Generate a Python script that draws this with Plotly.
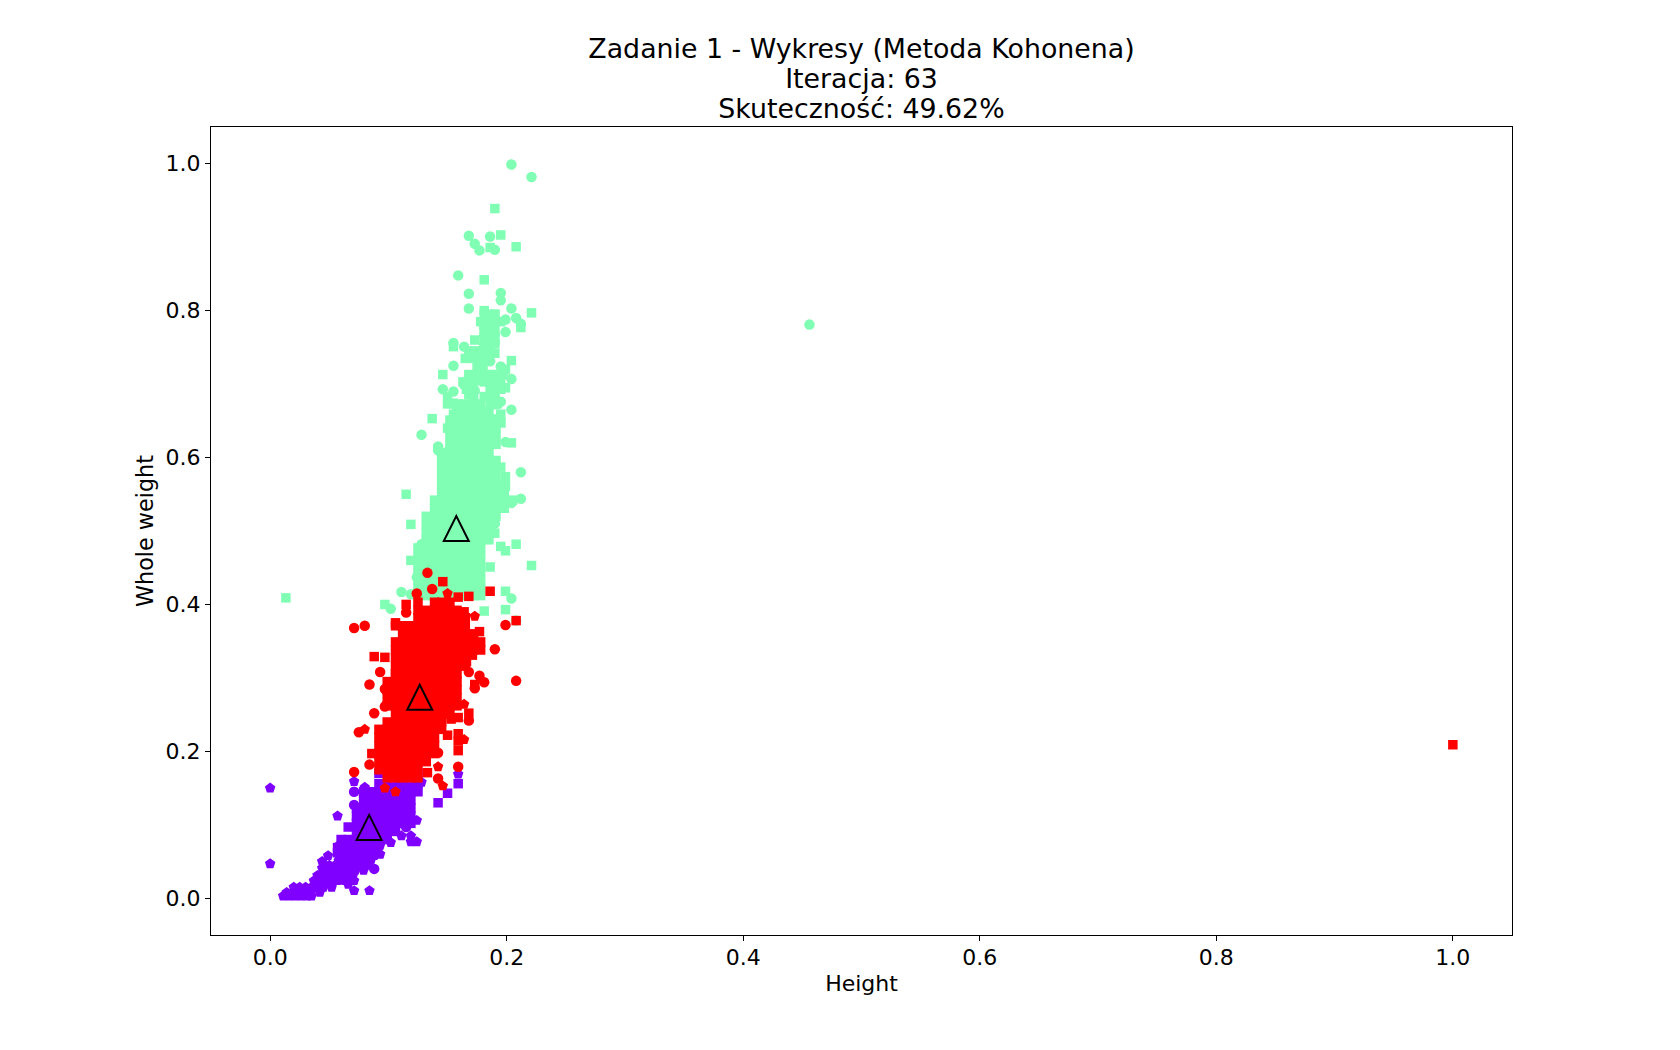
import plotly.graph_objects as go

TITLE_LINES = ["Zadanie 1 - Wykresy (Metoda Kohonena)", "Iteracja: 63", "Skuteczność: 49.62%"]
X_LABEL = "Height"
Y_LABEL = "Whole weight"
TICKS = [0.0, 0.2, 0.4, 0.6, 0.8, 1.0]
TICK_LABELS = ["0.0", "0.2", "0.4", "0.6", "0.8", "1.0"]

CENTROID_X = [0.0837, 0.1265, 0.1574]
CENTROID_Y = [0.0965, 0.2736, 0.5033]

PURPLE = "#8000ff"
GREEN = "#80ffb4"
RED = "#ff0000"

# ---- green cluster ----
green_fill_y = [.412,.422,.433,.444,.455,.466,.477,.488,.498,.509,.520,.531,.542,.553,.564,.575,.586,.596,.607,.618,.629,.640,.651,.662,.673,
                .683,.693,.703,.713,.725,.735,.745,.755,.765,.775,.785,.795]
green_fill_x = [
 [.125,.132,.139,.145,.152,.158,.165,.172,.178],
 [.125,.132,.139,.145,.152,.158,.165,.172,.178],
 [.125,.132,.139,.145,.152,.158,.165,.172,.178],
 [.125,.132,.139,.145,.152,.158,.165,.172,.178],
 [.125,.132,.139,.145,.152,.158,.165,.172,.178],
 [.125,.132,.139,.145,.152,.158,.165,.172,.178],
 [.125,.132,.139,.145,.152,.158,.165,.172,.178],
 [.132,.139,.145,.152,.158,.165,.172,.178,.185],
 [.132,.139,.145,.152,.158,.165,.172,.178,.185],
 [.132,.139,.145,.152,.158,.165,.172,.178,.185],
 [.132,.139,.145,.152,.158,.165,.172,.178,.185,.191],
 [.139,.145,.152,.158,.165,.172,.178,.185,.191,.198],
 [.139,.145,.152,.158,.165,.172,.178,.185,.191,.198,.205],
 [.145,.152,.158,.165,.172,.178,.185,.191,.198],
 [.145,.152,.158,.165,.172,.178,.185,.191,.198],
 [.145,.152,.158,.165,.172,.178,.185,.191],
 [.145,.152,.158,.165,.172,.178,.185,.191],
 [.145,.152,.158,.165,.172,.178,.185,.191],
 [.145,.152,.158,.165,.172,.178,.185],
 [.152,.158,.165,.172,.178,.185,.191],
 [.152,.158,.165,.172,.178,.185,.191],
 [.152,.158,.165,.172,.178,.185,.191],
 [.152,.158,.165,.172,.178,.185],
 [.158,.165,.172,.178,.185],
 [.150,.155,.158,.165,.172,.178,.186,.192],
 [.172,.186,.190],
 [.166,.172,.186,.190,.195],
 [.163,.170,.181,.186,.192],
 [.168,.175,.181,.186,.192,.197],
 [.175,.180],
 [.165,.170,.175,.180,.185],
 [.168,.173,.177,.181,.186],
 [.181,.186,.190],
 [.181,.186,.190],
 [.181,.186,.190],
 [.178,.183,.190,.195],
 [.181,.186,.190],
]
green_square_x = [.0133,.190,.195,.186,.208,.181,.181,.221,.190,.190,.212,.173,.155,.173,.181,.190,.204,.199,.146,.177,.195,.199,.168,.190,.181,.190,.150,.155,.190,.137,.195,.195,.155,.173,.181,.155,.164,.173,.181,.150,.204,.115,.119,.119,.097,.195,.199,.199,.190,.195,.199,.208,.221,.186,.199,.199,.181,.190,.195]
green_square_y = [.409,.939,.903,.886,.887,.842,.800,.797,.795,.784,.777,.760,.751,.743,.743,.742,.732,.720,.713,.705,.708,.695,.686,.695,.683,.681,.683,.674,.672,.653,.659,.648,.659,.659,.659,.648,.648,.648,.648,.640,.620,.550,.509,.460,.400,.587,.574,.561,.497,.479,.473,.482,.453,.451,.418,.393,.391,.532,.647]
green_circle_x = [.456,.204,.221,.168,.186,.173,.177,.190,.159,.168,.195,.195,.168,.204,.208,.199,.212,.181,.181,.199,.190,.181,.155,.164,.190,.181,.168,.173,.186,.155,.177,.195,.168,.164,.181,.204,.190,.146,.155,.173,.195,.177,.159,.168,.204,.190,.128,.190,.199,.142,.142,.212,.212,.204,.190,.186,.111,.102,.124,.119,.204,.208,.128,.128]
green_circle_y = [.781,.999,.982,.902,.901,.891,.882,.883,.848,.823,.824,.814,.803,.803,.790,.788,.782,.784,.776,.771,.767,.766,.756,.751,.756,.754,.736,.735,.731,.725,.720,.724,.709,.699,.707,.707,.707,.693,.690,.691,.676,.671,.669,.665,.665,.652,.631,.631,.621,.615,.610,.580,.544,.538,.510,.593,.417,.394,.437,.414,.408,.378,.482,.468]

# ---- red cluster ----
red_fill_y = [.403,.392,.382,.371,.360,.349,.338,.327,.316,.306,.295,.284,.273,.262,.251,.240,.230,.219,.208,.197,.186,.175,.164]
red_fill_x = [
 [.125,.139,.145,.152],
 [.125,.132,.139,.145,.152,.158],
 [.125,.132,.139,.145,.152,.158,.165],
 [.106,.112,.119,.125,.132,.139,.145,.152,.158,.165],
 [.112,.119,.125,.132,.139,.145,.152,.158,.165,.172],
 [.106,.112,.119,.125,.132,.139,.145,.152,.158,.165,.172,.178],
 [.106,.112,.119,.125,.132,.139,.145,.152,.158,.165,.172,.178],
 [.106,.112,.119,.125,.132,.139,.145,.152,.158,.165],
 [.106,.112,.119,.125,.132,.139,.145,.152,.158,.165],
 [.106,.112,.119,.125,.132,.139,.145,.152,.158],
 [.099,.106,.112,.119,.125,.132,.139,.145,.152,.158],
 [.099,.106,.112,.119,.125,.132,.139,.145,.152,.158],
 [.099,.106,.112,.119,.125,.132,.139,.145,.152,.158],
 [.099,.106,.112,.119,.125,.132,.139,.145,.152,.158],
 [.106,.112,.119,.125,.132,.139,.145,.152],
 [.099,.106,.112,.119,.125,.132,.139,.145],
 [.092,.099,.106,.112,.119,.125,.132,.139,.145],
 [.092,.099,.106,.112,.119,.125,.132,.139],
 [.092,.099,.106,.112,.119,.125,.132,.139],
 [.086,.092,.099,.106,.112,.119,.125,.132,.139],
 [.092,.099,.106,.112,.119,.125,.132],
 [.092,.099,.106,.112,.119,.125],
 [.099,.106,.112,.119,.125],
]
red_square_x = [1.0,.146,.159,.168,.186,.208,.115,.106,.177,.177,.088,.097,.173,.164,.150,.159,.159,.159,.168,.159,.153,.133,.108,.173,.166,.171,.106]
red_square_y = [.209,.431,.410,.411,.418,.378,.400,.375,.363,.345,.329,.328,.291,.390,.222,.224,.214,.201,.252,.246,.244,.171,.345,.344,.322,.331,.303]
red_circle_x = [.133,.137,.124,.115,.071,.080,.199,.190,.093,.084,.177,.181,.208,.168,.097,.173,.088,.075,.084,.071,.097,.142,.159,.168,.142]
red_circle_y = [.443,.421,.415,.389,.368,.371,.372,.339,.308,.291,.303,.294,.296,.308,.285,.286,.252,.226,.182,.172,.261,.163,.179,.242,.198]
red_pentagon_x = [.150,.173,.164,.080,.164,.142,.146,.106,.097]
red_pentagon_y = [.415,.384,.264,.230,.216,.179,.153,.145,.150]

# ---- purple cluster ----
purple_fill_y = [.170,.156,.145,.134,.123,.112,.102,.091,.080]
purple_fill_x = [
 [.092,.099,.106,.112,.119,.125],
 [.092,.099,.106,.112,.119,.125],
 [.079,.086,.092,.099,.106,.112,.119,.125],
 [.079,.086,.092,.099,.106,.112,.119],
 [.073,.079,.086,.092,.099,.106,.112,.119],
 [.073,.079,.086,.092,.099,.106,.112,.119],
 [.073,.079,.086,.092,.099,.106,.112,.119],
 [.073,.079,.086,.092,.099,.106],
 [.060,.066,.073,.079,.086,.092,.099],
]
purple_low_y = [.072,.065,.058,.051,.045,.038,.031,.024,.015,.008,.003]
purple_low_x = [
 [.058,.063,.068,.073,.078,.083,.088,.093],
 [.058,.063,.068,.073,.078,.083,.088,.091],
 [.058,.063,.068,.073,.078,.083,.088],
 [.058,.063,.068,.073,.078,.085],
 [.050,.055,.060,.065,.070,.075,.080,.083],
 [.047,.052,.057,.062,.067,.072,.079],
 [.040,.045,.050,.055,.060,.065,.070],
 [.037,.042,.047,.052,.057,.063],
 [.020,.025,.030,.035,.040,.045,.052],
 [.014,.019,.024,.029,.034,.042],
 [.011,.016,.021,.026,.031,.035],
]
purple_square_x = [.142,.150,.159,.066,.057,.057]
purple_square_y = [.130,.143,.156,.097,.069,.062]
purple_circle_x = [.071,.071,.115,.088]
purple_circle_y = [.145,.127,.097,.040]
purple_pentagon_x = [0.0,0.0,.057,.071,.084,.071,.124,.111,.119,.119,.124,.049,.044,.044,.071,.080,.159,.128,.102,.093,.066]
purple_pentagon_y = [.150,.047,.112,.0104,.0104,.024,.106,.085,.085,.077,.077,.058,.050,.041,.159,.151,.169,.158,.076,.060,.019]


def expand(rows_y, rows_x):
    xs, ys = [], []
    for y, row in zip(rows_y, rows_x):
        for x in row:
            xs.append(x)
            ys.append(y)
    return xs, ys


def points(fig, xs, ys, color, symbol, size, name):
    fig.add_trace(go.Scatter(x=xs, y=ys, mode="markers", name=name, showlegend=False,
                             marker=dict(color=color, symbol=symbol, size=size, line=dict(width=0))))


fig = go.Figure()

xs, ys = expand(purple_fill_y, purple_fill_x)
points(fig, xs + purple_square_x, ys + purple_square_y, PURPLE, "square", 9.5, "purple squares")
xs, ys = expand(purple_low_y, purple_low_x)
points(fig, xs + purple_pentagon_x, ys + purple_pentagon_y, PURPLE, "pentagon", 11, "purple pentagons")
points(fig, purple_circle_x, purple_circle_y, PURPLE, "circle", 10.5, "purple circles")

xs, ys = expand(green_fill_y, green_fill_x)
points(fig, xs + green_square_x, ys + green_square_y, GREEN, "square", 9.5, "green squares")
points(fig, green_circle_x, green_circle_y, GREEN, "circle", 10.5, "green circles")

xs, ys = expand(red_fill_y, red_fill_x)
points(fig, xs + red_square_x, ys + red_square_y, RED, "square", 9.5, "red squares")
points(fig, red_circle_x, red_circle_y, RED, "circle", 10.5, "red circles")
points(fig, red_pentagon_x, red_pentagon_y, RED, "pentagon", 11, "red pentagons")

# centroid triangles: anchored at data values, sized in pixels
for cx, cy in zip(CENTROID_X, CENTROID_Y):
    fig.add_shape(type="path", xref="x", yref="y", xsizemode="pixel", ysizemode="pixel",
                  xanchor=cx, yanchor=cy, path="M -12.5 -12.5 L 12.5 -12.5 L 0 12.5 Z",
                  line=dict(color="black", width=2), fillcolor="rgba(0,0,0,0)", layer="above")

axis = dict(range=[-0.05, 1.05], tickmode="array", tickvals=TICKS, ticktext=TICK_LABELS,
            showgrid=False, zeroline=False, showline=True, mirror=True,
            linecolor="black", linewidth=1.1, ticks="outside", ticklen=5, tickwidth=1.1,
            tickcolor="black", tickfont=dict(size=22, color="black"))

# base size 23 gives the 30 px line pitch; the span sets the glyph size
title_text = "<br>".join('<span style="font-size:26.8px">' + line + "</span>" for line in TITLE_LINES)

fig.update_layout(
    width=1680, height=1050,
    margin=dict(l=211, r=168, t=127, b=114.5),
    paper_bgcolor="white", plot_bgcolor="white",
    font=dict(family="DejaVu Sans", color="black"),
    showlegend=False,
    title=dict(text=title_text, x=0.5, xref="paper", xanchor="center",
               y=1 - 58 / 1050, yref="container", yanchor="top",
               font=dict(size=23, color="black")),
    xaxis=dict(axis, ticklabelstandoff=-2,
               title=dict(text=X_LABEL, font=dict(size=22, color="black"), standoff=6)),
    yaxis=dict(axis, title=dict(text=Y_LABEL, font=dict(size=22.3, color="black"), standoff=5)),
)

fig.write_html("out.html", config=dict(displayModeBar=False),
               post_script="document.body.style.margin='0';")
